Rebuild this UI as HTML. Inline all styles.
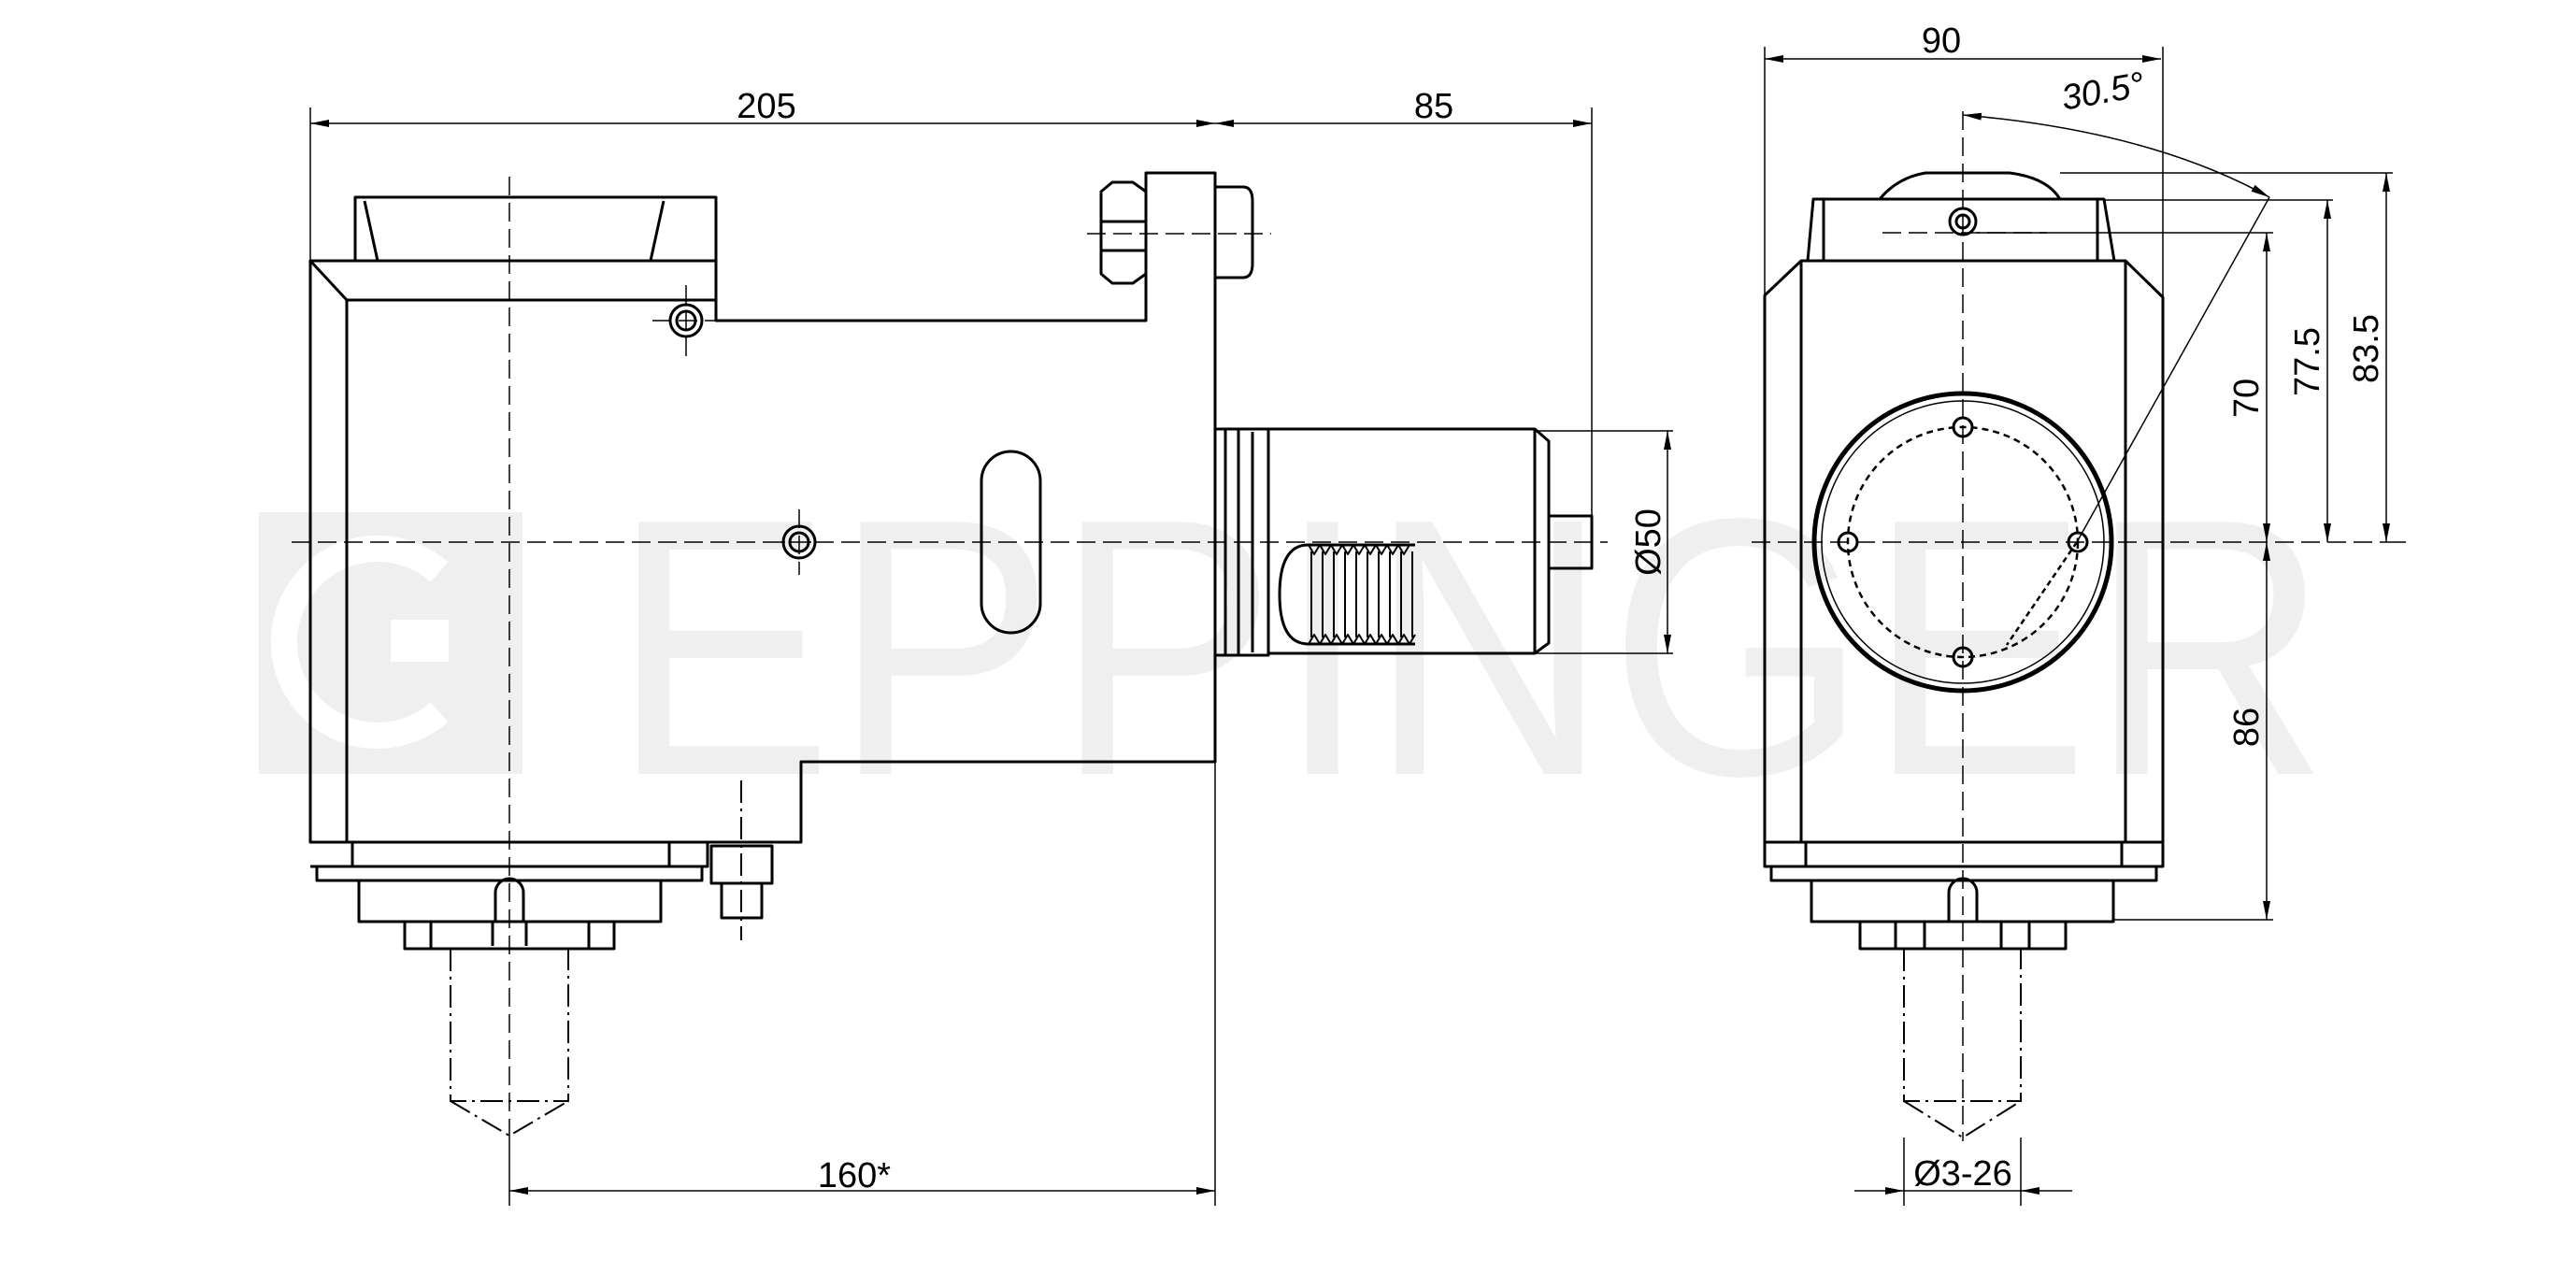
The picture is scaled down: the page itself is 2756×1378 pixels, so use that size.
<!DOCTYPE html>
<html><head><meta charset="utf-8"><style>html,body{margin:0;padding:0;background:#fff}svg{display:block}</style></head>
<body>
<svg width="2756" height="1378" viewBox="0 0 2756 1378" xmlns="http://www.w3.org/2000/svg">
<defs>
<marker id="a" viewBox="0 0 20 8" refX="20" refY="4" markerWidth="20" markerHeight="8" markerUnits="userSpaceOnUse" orient="auto-start-reverse"><path d="M0,0 L20,4 L0,8 z" fill="#000"/></marker>
</defs>
<!-- watermark -->
<g fill="#efefef">
<rect x="277" y="548" width="282" height="280"/>
<text x="654" y="828" font-family="Liberation Sans, sans-serif" font-size="392" textLength="1838" lengthAdjust="spacingAndGlyphs">EPPINGER</text>
</g>
<path d="M470,612 A100,100 0 1 0 470,762" fill="none" stroke="#fff" stroke-width="28"/>
<rect x="418" y="663" width="62" height="45" fill="#fff"/>
<g fill="none" stroke="#000" stroke-width="3" stroke-linejoin="round">
<!-- LEFT VIEW -->
<path d="M332,279 H766 V343 H1226 V185 H1300 V815 H857 V901 H332 Z"/>
<path d="M371,321 V901 M332,279 L371,321 H766"/>
<path d="M380,279 V211 H766 V279 M390,215 L404,279 M710,215 L696,279"/>
<path d="M332,927 H757 V901 M339,927 V942 H751 V927 M377,901 V927 M716,901 V927"/>
<path d="M384,942 V986 H707 V942 M433,986 V1015 H657 V986 M461,986 V1015 M630,986 V1015 M527,986 V1012 M563,986 V1012"/>
<path d="M530,986 V955 A15,15 0 0 1 560,955 V986"/>
<path d="M761,905 V945 H826 V905 Z M772,945 V982 H815 V945"/>
<path d="M1178,205 L1190,195 H1212 L1226,205 V293 L1212,303 H1190 L1178,293 Z M1178,237 H1226 M1178,268 H1226"/>
<path d="M1300,200 H1330 Q1340,200 1340,215 V282 Q1340,297 1330,297 H1300"/>
<rect x="1050" y="483" width="63" height="194" rx="31.5"/>
<circle cx="734" cy="343" r="17"/><circle cx="734" cy="343" r="10"/>
<circle cx="855" cy="580" r="17"/><circle cx="855" cy="580" r="10"/>
<!-- shaft -->
<path d="M1300,459 H1357 V701 H1300 M1311,459 V701 M1325,459 V701 M1340,462 V698"/>
<path d="M1357,459 H1642 L1657,472 V688 L1642,699 H1357 Z M1642,459 V699"/>
<path d="M1657,552 H1703 V608 H1657"/>
<path d="M1514,583 H1400 Q1369,583 1369,636 Q1369,689 1400,689 H1514"/>
<path d="M1400,583 l6,10 l6,-10 l6,10 l6,-10 l6,10 l6,-10 l6,10 l6,-10 l6,10 l6,-10 l6,10 l6,-10 l6,10 l6,-10 l6,10 l6,-10 l6,10 l6,-10 M1400,689 l6,-10 l6,10 l6,-10 l6,10 l6,-10 l6,10 l6,-10 l6,10 l6,-10 l6,10 l6,-10 l6,10 l6,-10 l6,10 l6,-10 l6,10 l6,-10 l6,10 l6,-10" stroke-width="2"/>
<path d="M1403,590 V682 M1415,590 V682 M1427,590 V682 M1439,590 V682 M1451,590 V682 M1463,590 V682 M1475,590 V682 M1487,590 V682 M1499,590 V682 M1511,590 V682" stroke-width="2"/>
<!-- RIGHT VIEW -->
<path d="M1927,279 H2274 L2314,318 V927 H1888 V316 Z M1927,279 V901 M2274,279 V901 M1888,901 H2314 M1932,901 V927 M2270,901 V927"/>
<path d="M1895,927 V942 H2307 V927 M1938,942 V986 H2261 V942 M1990,986 V1015 H2210 V986 M2028,986 V1015 M2059,986 V1015 M2141,986 V1015 M2171,986 V1015"/>
<path d="M2085,986 V955 A15,15 0 0 1 2115,955 V986"/>
<path d="M1934,279 L1940,213 H2251 L2262,279 M1951,213 V279 M2244,213 V279"/>
<path d="M2011,213 Q2030,190 2060,185 H2150 Q2190,190 2204,213"/>
<circle cx="2100" cy="237" r="14"/><circle cx="2100" cy="237" r="7"/>
<circle cx="2100" cy="580" r="159" stroke-width="5"/>
<circle cx="2100" cy="580" r="151" stroke-width="1.5"/>
<circle cx="2100" cy="580" r="123" stroke-width="2.5" stroke-dasharray="7,5"/>
<circle cx="2100" cy="457" r="10"/><circle cx="2100" cy="703" r="10"/><circle cx="1977" cy="580" r="10"/><circle cx="2223" cy="580" r="10"/>
</g>
<!-- tool dash-dot -->
<g fill="none" stroke="#000" stroke-width="2" stroke-dasharray="24,6,3,6">
<path d="M482,1015 V1178 H608 V1015 M482,1178 L545,1215 L608,1178"/>
<path d="M2037,1015 V1178 H2162 V1015 M2037,1178 L2100,1217 L2162,1178"/>
<path d="M793,835 V1006"/>
</g>
<!-- center lines -->
<g fill="none" stroke="#000" stroke-width="1.5" stroke-dasharray="20,8">
<path d="M545,189 V1215 M312,580 H1720 M2100,119 V1221 M1874,580 H2560 M1163,250 H1360 M2014,249 H2190 M698,343 H770 M734,305 V385 M820,580 H890 M855,545 V615"/>
<path d="M2222,580 L2147,690" stroke-width="2.5" stroke-dasharray="6,4"/>
</g>
<!-- dimension lines -->
<g fill="none" stroke="#000" stroke-width="1.5">
<path d="M332,279 V115 M1300,185 V1290 M1703,552 V115 M545,1215 V1290 M1888,316 V50 M2314,318 V50 M1642,461 H1790 M1642,699 H1790"/>
<path d="M2204,185 H2560 M2251,214 H2496 M2115,249 H2432 M2261,984 H2432 M2560,580 H2574"/>
<path d="M2037,1217 V1290 M2162,1217 V1290"/>
<path d="M332,132 H1300" marker-start="url(#a)" marker-end="url(#a)"/>
<path d="M1300,132 H1703" marker-start="url(#a)" marker-end="url(#a)"/>
<path d="M545,1274 H1300" marker-start="url(#a)" marker-end="url(#a)"/>
<path d="M1888,63 H2312" marker-start="url(#a)" marker-end="url(#a)"/>
<path d="M1784,461 V699" marker-start="url(#a)" marker-end="url(#a)"/>
<path d="M2425,249 V580" marker-start="url(#a)" marker-end="url(#a)"/>
<path d="M2425,580 V984" marker-start="url(#a)" marker-end="url(#a)"/>
<path d="M2490,214 V580" marker-start="url(#a)" marker-end="url(#a)"/>
<path d="M2553,185 V580" marker-start="url(#a)" marker-end="url(#a)"/>
<path d="M1984,1274 H2037" marker-end="url(#a)"/>
<path d="M2217,1274 H2162" marker-end="url(#a)"/>
<path d="M2037,1274 H2162"/>
<path d="M2100,123 Q2300,140 2428,211" marker-start="url(#a)" marker-end="url(#a)"/>
<path d="M2428,211 L2222,580"/>
</g>
<g font-family="Liberation Sans, sans-serif" font-size="38" fill="#000" text-anchor="middle">
<text x="820" y="126">205</text>
<text x="1534" y="126">85</text>
<text x="914" y="1270">160*</text>
<text x="2077" y="56">90</text>
<text x="2100" y="1268">Ø3-26</text>
<text transform="translate(2252,110) rotate(-10)" font-style="italic">30.5°</text>
<text transform="translate(1776,580) rotate(-90)">Ø50</text>
<text transform="translate(2416,426) rotate(-90)">70</text>
<text transform="translate(2416,778) rotate(-90)">86</text>
<text transform="translate(2481,387) rotate(-90)">77.5</text>
<text transform="translate(2544,373) rotate(-90)">83.5</text>
</g>
</svg>
</body></html>
